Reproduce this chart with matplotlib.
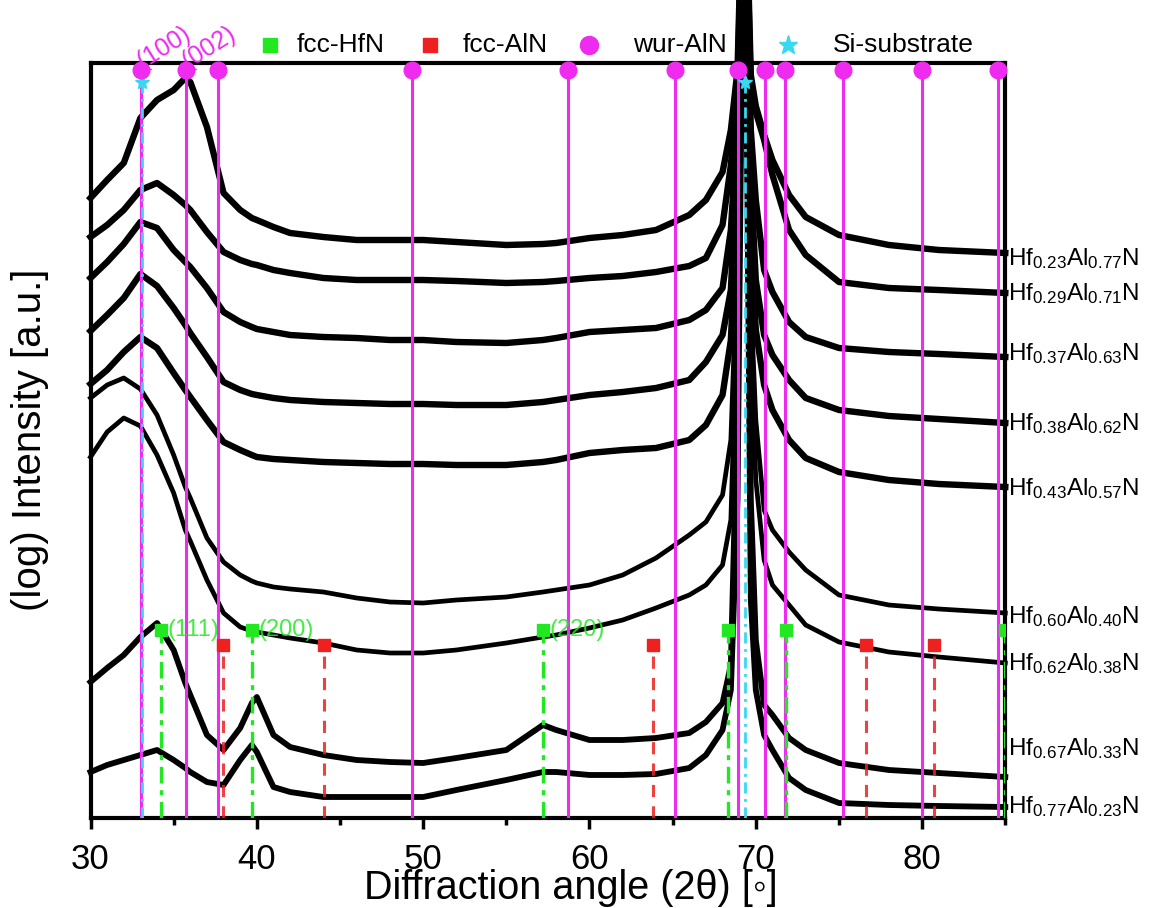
import matplotlib
matplotlib.use('Agg')
import matplotlib.pyplot as plt
from matplotlib.lines import Line2D
from matplotlib.transforms import blended_transform_factory

# ---------------- data (2theta in degrees, offset log-intensity in arbitrary units) -------------
two_theta = [30, 31, 32, 33, 34, 35, 35.7, 36, 37, 38, 39, 39.7, 40, 41, 42, 44, 46, 48, 50, 52,
             55, 57.2, 58, 60, 62, 64, 66, 67, 68, 68.5, 68.9, 69.3, 69.7, 70, 70.5, 71, 72, 73,
             75, 78, 81, 85]

hf023 = [620, 638, 655, 700, 718, 728, 740, 736, 691, 625, 608, 600, 598, 591, 585, 581, 578, 578, 578, 576,
         573, 574, 575, 580, 583, 588, 603, 618, 646, 688, 748, 1000, 743, 712, 683, 658, 623, 601,
         583, 573, 568, 565]
hf029 = [581, 593, 608, 628, 635, 623, 613, 608, 586, 566, 558, 554, 553, 548, 545, 540, 538, 538, 538, 537,
         535, 536, 537, 540, 542, 546, 552, 560, 593, 653, 728, 1000, 723, 706, 678, 643, 588, 563,
         536, 530, 528, 525]
hf037 = [540, 556, 574, 596, 590, 568, 556, 551, 530, 506, 496, 491, 489, 486, 483, 481, 480, 478, 478, 476,
         475, 478, 480, 486, 488, 490, 498, 508, 530, 588, 698, 1000, 688, 618, 548, 526, 496, 481,
         470, 466, 464, 461]
hf038 = [487, 503, 520, 544, 532, 510, 493, 485, 461, 436, 428, 424, 423, 420, 418, 416, 415, 414, 414, 413,
         413, 416, 418, 423, 426, 430, 438, 456, 483, 528, 668, 1000, 638, 538, 483, 463, 438, 420,
         408, 402, 399, 395]
hf043 = [434, 448, 466, 481, 470, 445, 428, 421, 398, 376, 368, 363, 361, 359, 358, 356, 355, 354, 354, 353,
         353, 356, 358, 365, 368, 370, 378, 393, 423, 478, 618, 1000, 578, 488, 433, 408, 378, 360,
         346, 338, 334, 331]
hf060 = [420, 433, 440, 429, 403, 363, 331, 320, 280, 256, 243, 237, 235, 231, 229, 226, 220, 216, 215, 218,
         221, 226, 228, 233, 243, 260, 283, 296, 323, 378, 568, 1000, 518, 398, 308, 288, 266, 248,
         223, 213, 209, 205]
hf062 = [361, 386, 400, 392, 363, 325, 288, 277, 238, 205, 191, 187, 186, 183, 180, 175, 168, 165, 165, 168,
         175, 181, 183, 190, 198, 210, 223, 233, 253, 298, 518, 1000, 468, 338, 258, 233, 213, 193,
         176, 166, 161, 155]
hf067 = [136, 150, 163, 181, 195, 168, 135, 123, 83, 68, 90, 115, 121, 83, 71, 63, 58, 56, 55, 60,
         68, 93, 88, 78, 78, 80, 85, 96, 115, 153, 418, 1000, 318, 178, 113, 103, 80, 68,
         55, 48, 45, 41]
hf077 = [46, 53, 58, 63, 68, 58, 50, 46, 36, 33, 58, 73, 66, 31, 26, 21, 21, 21, 21, 28,
         38, 46, 46, 43, 43, 44, 50, 63, 88, 128, 318, 1000, 218, 128, 83, 68, 40, 28,
         15, 13, 12, 11]

series = [hf023, hf029, hf037, hf038, hf043, hf060, hf062, hf067, hf077]
sample_labels = [r'Hf$_{0.23}$Al$_{0.77}$N', r'Hf$_{0.29}$Al$_{0.71}$N', r'Hf$_{0.37}$Al$_{0.63}$N',
                 r'Hf$_{0.38}$Al$_{0.62}$N', r'Hf$_{0.43}$Al$_{0.57}$N', r'Hf$_{0.60}$Al$_{0.40}$N',
                 r'Hf$_{0.62}$Al$_{0.38}$N', r'Hf$_{0.67}$Al$_{0.33}$N', r'Hf$_{0.77}$Al$_{0.23}$N']

# reference peak positions (2theta)
wur_aln = [33.02, 35.72, 37.65, 49.31, 58.73, 65.15, 68.92, 70.53, 71.76, 75.27, 79.99, 84.54]
fcc_hfn = [34.24, 39.73, 57.22, 68.30, 71.82, 85.0]
fcc_aln = [37.95, 44.06, 63.84, 76.61, 80.70]
si_sub = [33.1, 69.33]
wur_labels = {'(100)': 33.02, '(002)': 35.72}
hfn_labels = {'(111)': 34.24, '(200)': 39.73, '(220)': 57.22}

# ---------------- layout / style ----------------
W, H = 1157, 908
MAG = '#EE2BEE'
GRN = '#22E822'
RED = '#EE2020'
CYA = '#38D8F0'
SANS = ['Liberation Sans', 'DejaVu Sans']

plt.rcParams['font.family'] = SANS
plt.rcParams['mathtext.fontset'] = 'custom'
plt.rcParams['mathtext.rm'] = 'Liberation Sans'
plt.rcParams['mathtext.it'] = 'Liberation Sans:italic'
plt.rcParams['mathtext.default'] = 'rm'

fig = plt.figure(figsize=(W / 100, H / 100), dpi=100)
ax_l, ax_r, ax_t, ax_b = 90.5, 1005.3, 63, 818
ax = fig.add_axes([ax_l / W, 1 - ax_b / H, (ax_r - ax_l) / W, (ax_b - ax_t) / H])
ax.set_xlim(30, 85)
ax.set_ylim(0, ax_b - ax_t)

curve_lw = [4.6, 4.6, 4.6, 4.6, 4.6, 3.4, 3.4, 4.2, 4.2]
for ys, lw in zip(series, curve_lw):
    ax.plot(two_theta, ys, color='black', lw=lw, solid_joinstyle='round', clip_on=False, zorder=3)

# reference lines
top_mag = 748
top_si = 736
top_hfn = 188
top_aln = 173
ax.vlines(wur_aln, 0, top_mag, color=MAG, lw=2.2, zorder=5)
ax.plot(wur_aln, [top_mag] * len(wur_aln), 'o', color=MAG, ms=12, clip_on=False, zorder=10)
ax.vlines(si_sub, 0, top_si, color=CYA, lw=2.0, linestyles=(0, (4, 2, 1, 2)), zorder=6)
ax.plot(si_sub, [top_si] * len(si_sub), '*', color=CYA, ms=10, clip_on=False, zorder=9)
ax.vlines(fcc_hfn, 0, top_hfn, color=GRN, lw=2.4, linestyles=(0, (5, 2, 1.5, 2)), zorder=6)
ax.plot(fcc_hfn, [top_hfn] * len(fcc_hfn), 's', color=GRN, ms=9, zorder=9)
ax.vlines(fcc_aln, 0, top_aln, color=RED, lw=2.2, linestyles=(0, (4, 3)), zorder=6, alpha=0.85)
ax.plot(fcc_aln, [top_aln] * len(fcc_aln), 's', color=RED, ms=9, zorder=9)

for txt, xv in wur_labels.items():
    ax.text(xv + 0.3, top_mag - 3, txt, color=MAG, fontsize=18, rotation=32,
            rotation_mode='anchor', ha='left', va='bottom', zorder=11, clip_on=False)
for txt, xv in hfn_labels.items():
    ax.text(xv + 0.4, top_hfn, txt, color=GRN, fontsize=17, ha='left', va='center', zorder=8,
            alpha=0.85)

# sample labels on the right
label_y = [553, 518, 458, 388, 323, 195, 148, 63, 5]
tr = blended_transform_factory(ax.transAxes, ax.transData)
for lab, yv in zip(sample_labels, label_y):
    ax.text(1.003, yv, lab, transform=tr, fontsize=17.5, ha='left', va='baseline',
            clip_on=False)

# axes styling
for s in ax.spines.values():
    s.set_linewidth(3.0)
ax.set_yticks([])
ax.set_xticks([30, 40, 50, 60, 70, 80])
ax.set_xticks([35, 45, 55, 65, 75, 85], minor=True)
ax.tick_params(axis='x', which='major', direction='out', length=8, width=2.5, pad=10,
               labelsize=25)
ax.tick_params(axis='x', which='minor', direction='out', length=5, width=2.5)

fig.text(571 / W, 1 - 888 / H, 'Diffraction angle (2θ) [◦]', fontsize=28.5,
         ha='center', va='center')
fig.text(30 / W, 1 - 440 / H, '(log) Intensity [a.u.]', fontsize=29, rotation=90,
         ha='center', va='center')

# legend above the frame
legend_items = [('fcc-HfN', 's', GRN, 10), ('fcc-AlN', 's', RED, 10), ('wur-AlN', 'o', MAG, 13),
                ('Si-substrate', '*', CYA, 14)]
marker_px = [270, 430, 589, 788]
text_px = [297, 463, 633, 833]
leg_py = 45
for (name, mk, col, ms), mx, tx in zip(legend_items, marker_px, text_px):
    fig.add_artist(Line2D([mx / W], [1 - leg_py / H], marker=mk, color=col, ms=ms, ls='none',
                          transform=fig.transFigure))
    fig.text(tx / W, 1 - leg_py / H, name, fontsize=19, ha='left', va='center')

fig.savefig('out.png', dpi=100)
